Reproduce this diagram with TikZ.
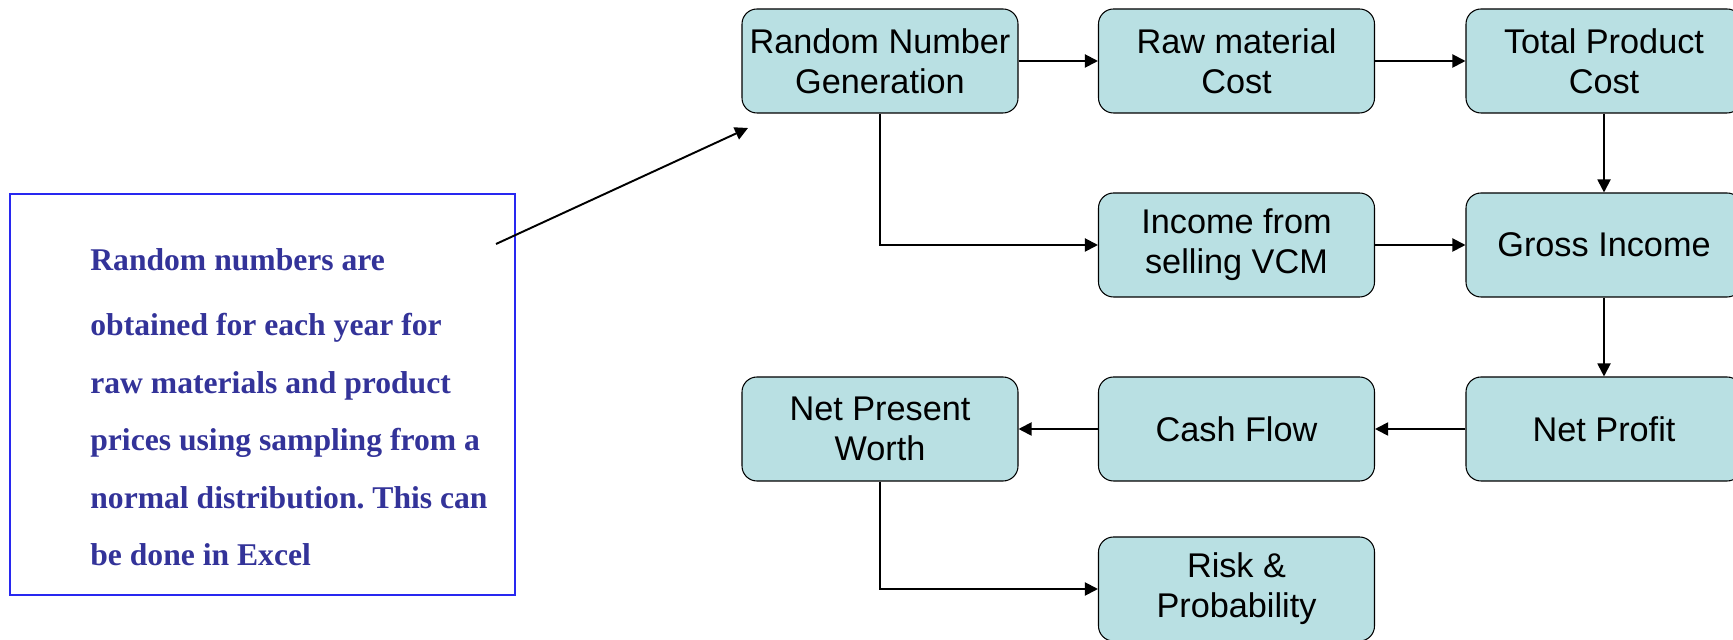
\documentclass[tikz,border=0pt]{standalone}
\usepackage{fontspec}
\setmainfont{Liberation Sans}
\newfontfamily\notefont{Liberation Serif}
\usetikzlibrary{arrows.meta}
\definecolor{boxfill}{RGB}{185,224,227}
\definecolor{notetext}{RGB}{51,51,153}
\definecolor{noteline}{RGB}{40,40,240}
\frenchspacing

\begin{document}
\begin{tikzpicture}[
    stage/.style={draw, rounded corners=0.3cm, fill=boxfill, line width=0.6pt,
      minimum width=5.52cm, minimum height=2.08cm, inner sep=0pt, align=center,
      font=\fontsize{19.5}{22.8}\selectfont},
    flow/.style={-{Triangle[length=0.26cm,width=0.26cm]}, line width=1.1pt}
  ]
  \useasboundingbox (0,0) rectangle (34.66,-12.8);
  % the chain of stages
  \node[stage] (rng) at (17.6,-1.22) {Random Number\\Generation};
  \node[stage] (raw) at (24.73,-1.22) {Raw material\\Cost};
  \node[stage] (total) at (32.08,-1.22) {Total Product\\Cost};
  \node[stage] (income) at (24.73,-4.9) {Income from\\selling VCM};
  \node[stage] (gross) at (32.08,-4.9) {Gross Income};
  \node[stage] (npw) at (17.6,-8.58) {Net Present\\Worth};
  \node[stage] (cash) at (24.73,-8.58) {Cash Flow};
  \node[stage] (netprofit) at (32.08,-8.58) {Net Profit};
  \node[stage] (risk) at (24.73,-11.78) {Risk \&\\Probability};
  \draw[flow] (rng) -- (raw);
  \draw[flow] (raw) -- (total);
  \draw[flow] (total) -- (gross);
  \draw[flow] (rng.south) |- (income.west);
  \draw[flow] (income) -- (gross);
  \draw[flow] (gross) -- (netprofit);
  \draw[flow] (netprofit) -- (cash);
  \draw[flow] (cash) -- (npw);
  \draw[flow] (npw.south) |- (risk.west);
  % the note on the left
  \node[draw=noteline, line width=0.85pt, minimum width=10.1cm, minimum height=8.02cm] (note) at (5.25,-7.89) {};
  \node[anchor=north west, inner sep=0pt, align=left, text=notetext,
    font=\notefont\bfseries\fontsize{18}{32.7}\selectfont] (notetext) at (1.8,-4.96)
    {Random numbers are\\[0.16cm]
     obtained for each year for\\
     raw materials and product\\
     prices using sampling from a\\
     normal distribution. This can\\
     be done in Excel};
  \coordinate (notetip) at (9.92,-4.88);
  \coordinate (rngtip) at (14.96,-2.56);
  \draw[flow] (notetip) -- (rngtip);
\end{tikzpicture}
\end{document}
